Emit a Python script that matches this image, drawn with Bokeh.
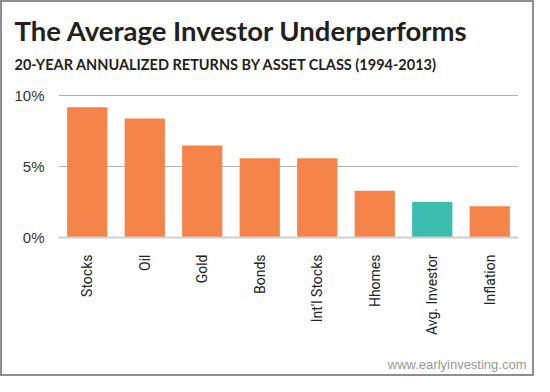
from bokeh.plotting import figure
from bokeh.models import Title, FixedTicker, Range1d
from bokeh.embed import file_html
from bokeh.resources import INLINE
from math import pi

categories = ["Stocks", "Oil", "Gold", "Bonds", "Int'l Stocks", "Hhomes", "Avg. Investor", "Inflation"]
returns = [9.2, 8.4, 6.5, 5.6, 5.6, 3.3, 2.5, 2.2]
highlight = "Avg. Investor"
y_ticks = [0, 5, 10]
y_tick_labels = ["0%", "5%", "10%"]
title_text = "The Average Investor Underperforms"
subtitle_text = "20-YEAR ANNUALIZED RETURNS BY ASSET CLASS (1994-2013)"
source_text = "www.earlyinvesting.com"

ORANGE = "#F5844A"
TEAL = "#3BBEB0"
colors = [TEAL if c == highlight else ORANGE for c in categories]

p = figure(x_range=categories, y_range=Range1d(0, 10.1), width=534, height=376,
           output_backend="svg", toolbar_location=None, title=None,
           min_border_left=56, min_border_right=18, min_border_top=92, min_border_bottom=141)
p.styles = {"border": "2px solid #8f8f8f"}
p.outline_line_color = None
p.background_fill_color = "white"
p.border_fill_color = "white"

p.vbar(x=categories, top=returns, width=0.7, color=colors, line_color=None)

# grid
p.xgrid.grid_line_color = None
p.ygrid.ticker = FixedTicker(ticks=y_ticks[1:])
p.ygrid.grid_line_color = "#b3b3b3"
p.ygrid.grid_line_width = 1

# y axis
p.yaxis.ticker = FixedTicker(ticks=y_ticks)
p.yaxis.major_label_overrides = {t: l for t, l in zip(y_ticks, y_tick_labels)}
p.yaxis.axis_line_color = None
p.yaxis.major_tick_line_color = None
p.yaxis.minor_tick_line_color = None
p.yaxis.major_tick_out = 0
p.yaxis.major_label_standoff = 14
p.yaxis.major_label_text_font = "Liberation Sans"
p.yaxis.major_label_text_font_size = "15px"
p.yaxis.major_label_text_color = "#333333"

# x axis
p.xaxis.axis_line_color = "#cfcfcf"
p.xaxis.axis_line_width = 2
p.xaxis.major_tick_line_color = None
p.xaxis.major_tick_out = 0
p.xaxis.major_label_standoff = 17
p.xaxis.major_label_orientation = pi / 2
p.xaxis.major_label_text_font = "Roboto"
p.xaxis.major_label_text_font_size = "14px"
p.xaxis.major_label_text_color = "#222222"

sub = Title(text=subtitle_text, text_font="Lato", text_font_size="14.5px", text_font_style="bold",
            text_color="#231f20", align="left", offset=-44, standoff=44)
p.add_layout(sub, "above")
main = Title(text=title_text, text_font="Lato", text_font_size="27.5px", text_font_style="bold",
             text_color="#231f20", align="left", offset=-44, standoff=-30)
p.add_layout(main, "above")

# spacer between the axis labels and the source note
spacer = Title(text=" ", text_font_size="1px", text_color="white", standoff=13)
p.add_layout(spacer, "below")
foot = Title(text=source_text, text_font="Liberation Sans", text_font_size="13px",
             text_font_style="normal", text_color="#999999", align="right", offset=-8, standoff=0)
p.add_layout(foot, "below")

open("out.html", "w").write(file_html(p, INLINE))
